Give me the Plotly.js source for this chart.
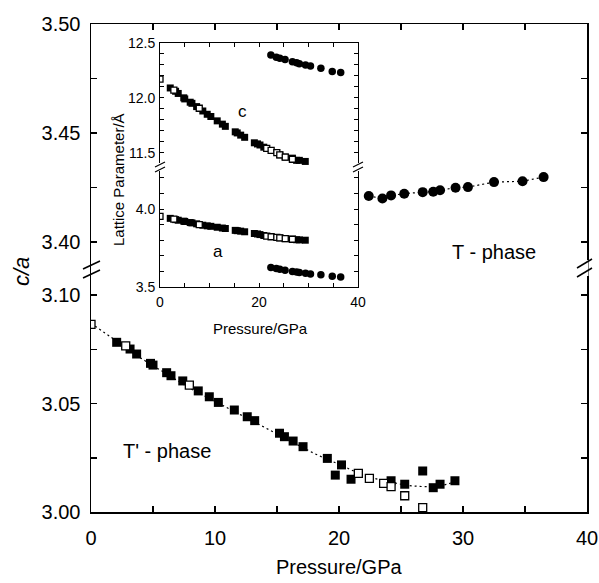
<!DOCTYPE html>
<html><head><meta charset="utf-8">
<script src="https://cdn.plot.ly/plotly-3.0.1.min.js"></script>
<style>html,body{margin:0;padding:0;background:#fff}</style>
</head><body><div id="chart" style="width:599px;height:583px"></div>
<script>
// ---- Main plot: T' phase c/a ----
const tpPressureFilled = [2.07, 3.15, 3.68, 4.8, 5.0, 6.1, 6.45, 7.4, 8.65, 9.54, 10.27, 11.56, 12.6, 13.2, 15.2, 15.6, 16.3, 17.1, 19.06, 19.7, 20.2, 20.97, 24.2, 25.3, 26.75, 27.6, 28.15, 29.35];
const tpRatioFilled = [3.0782, 3.0751, 3.0728, 3.0685, 3.0677, 3.0642, 3.0628, 3.0604, 3.0558, 3.0531, 3.0505, 3.0470, 3.0439, 3.0421, 3.0363, 3.0347, 3.0327, 3.0301, 3.0247, 3.0170, 3.0217, 3.0151, 3.0144, 3.0128, 3.0189, 3.0112, 3.0128, 3.0144];
const tpPressureOpen = [0, 2.8, 7.93, 21.56, 22.45, 23.6, 24.2, 25.3, 26.75];
const tpRatioOpen = [3.0865, 3.0766, 3.0585, 3.0178, 3.0155, 3.0132, 3.0117, 3.0075, 3.0020];
// dotted guide curve through T' phase
const tpFitPressure = [0, 2, 4, 6, 8, 10, 12, 14, 16, 18, 20, 22, 24, 26, 28, 29.4];
const tpFitRatio = [3.087, 3.079, 3.071, 3.064, 3.057, 3.051, 3.045, 3.039, 3.033, 3.027, 3.022, 3.017, 3.014, 3.012, 3.012, 3.014];
// ---- Main plot: T phase c/a ----
const tPressure = [22.4, 23.5, 24.2, 25.26, 26.75, 27.6, 28.15, 29.4, 30.4, 32.5, 34.8, 36.5];
const tRatio = [3.4211, 3.4200, 3.4214, 3.4222, 3.4229, 3.4231, 3.4238, 3.4249, 3.4252, 3.4275, 3.4279, 3.4298];
// ---- Inset: lattice parameters ----
const tpCFilled = [12.09, 12.06, 12.04, 12.00, 11.99, 11.96, 11.95, 11.92, 11.88, 11.85, 11.83, 11.79, 11.76, 11.74, 11.69, 11.68, 11.66, 11.64, 11.59, 11.58, 11.57, 11.55, 11.48, 11.46, 11.45, 11.43, 11.43, 11.42];
const tpCOpen = [12.17, 12.07, 11.905, 11.54, 11.52, 11.50, 11.48, 11.46, 11.44];
const tpAFilled = [3.94, 3.932, 3.928, 3.922, 3.92, 3.913, 3.911, 3.905, 3.896, 3.892, 3.889, 3.883, 3.878, 3.875, 3.863, 3.861, 3.858, 3.854, 3.843, 3.840, 3.836, 3.830, 3.815, 3.81, 3.806, 3.803, 3.802, 3.80];
const tpAOpen = [3.953, 3.935, 3.90, 3.826, 3.822, 3.818, 3.815, 3.81, 3.806];
const tC = [12.39, 12.37, 12.36, 12.35, 12.33, 12.32, 12.31, 12.30, 12.29, 12.27, 12.24, 12.23];
const tA = [3.625, 3.618, 3.613, 3.607, 3.600, 3.596, 3.593, 3.588, 3.584, 3.578, 3.569, 3.564];
// ---- ticks ----
const mainXTicks = [0, 5, 10, 15, 20, 25, 30, 35, 40];
const mainXLabels = ['0', '', '10', '', '20', '', '30', '', '40'];
const lowYTicks = [3.00, 3.025, 3.05, 3.075, 3.10];
const lowYLabels = ['3.00', '', '3.05', '', '3.10'];
const upYTicks = [3.40, 3.425, 3.45, 3.475, 3.50];
const upYLabels = ['3.40', '', '3.45', '', '3.50'];
const insXLabels = ['0', '', '', '', '20', '', '', '', '40'];
const insATicks = [3.5, 3.6, 3.7, 3.8, 3.9, 4.0, 4.1, 4.2];
const insALabels = ['3.5', '', '', '', '', '4.0', '', ''];
const insCTicks = [11.5, 11.6, 11.7, 11.8, 11.9, 12.0, 12.1, 12.2, 12.3, 12.4, 12.5];
const insCLabels = ['11.5', '', '', '', '', '12.0', '', '', '', '', '12.5'];

// ---- geometry helpers (pixel -> paper) ----
const W = 599, H = 583, PL = 91, PR = 587, PT = 24, PB = 512;
const px = x => (x - PL) / (PR - PL);
const py = y => (PB - y) / (PB - PT);
const split = py(270);
const FONT = 'Liberation Sans, Arial, Helvetica, sans-serif';

const filledSq = (x, y, xa, ya, s) => ({x, y, xaxis: xa, yaxis: ya, type: 'scatter', mode: 'markers', showlegend: false, hoverinfo: 'skip',
  marker: {symbol: 'square', size: s, color: 'black', line: {width: 0}}});
const openSq = (x, y, xa, ya, s) => ({x, y, xaxis: xa, yaxis: ya, type: 'scatter', mode: 'markers', showlegend: false, hoverinfo: 'skip',
  marker: {symbol: 'square', size: s, color: 'white', line: {width: 1.3, color: 'black'}}});
const circ = (x, y, xa, ya, s, line) => ({x, y, xaxis: xa, yaxis: ya, type: 'scatter', mode: line ? 'lines+markers' : 'markers', showlegend: false, hoverinfo: 'skip',
  line: {color: 'black', width: 1.2, dash: '2px,3px'}, marker: {symbol: 'circle', size: s, color: 'black'}});

const data = [
  {x: tpFitPressure, y: tpFitRatio, xaxis: 'x', yaxis: 'y', type: 'scatter', mode: 'lines', showlegend: false, hoverinfo: 'skip',
   line: {color: 'black', width: 1.2, dash: '2px,3px', shape: 'spline'}},
  filledSq(tpPressureFilled, tpRatioFilled, 'x', 'y', 9),
  openSq(tpPressureOpen, tpRatioOpen, 'x', 'y', 8),
  circ(tPressure, tRatio, 'x2', 'y2', 10, true),
  // inset a
  filledSq(tpPressureFilled, tpAFilled, 'x3', 'y3', 7),
  openSq(tpPressureOpen, tpAOpen, 'x3', 'y3', 6),
  circ(tPressure, tA, 'x3', 'y3', 7.5, false),
  // inset c
  filledSq(tpPressureFilled, tpCFilled, 'x4', 'y4', 7),
  openSq(tpPressureOpen, tpCOpen, 'x4', 'y4', 6),
  circ(tPressure, tC, 'x4', 'y4', 7.5, false)
];

const baseAx = {showgrid: false, zeroline: false, showline: true, linecolor: 'black', ticks: 'inside', tickcolor: 'black', fixedrange: true};
const mainX = Object.assign({}, baseAx, {domain: [0, 1], range: [0, 40], tickmode: 'array', tickvals: mainXTicks, linewidth: 1.5, tickwidth: 1.5, ticklen: 6});
const insX = Object.assign({}, baseAx, {domain: [px(160), px(358)], range: [0, 40], tickmode: 'array', tickvals: mainXTicks, linewidth: 1, tickwidth: 1, ticklen: 4});

const ann = (text, x, y, size, extra) => Object.assign({text, xref: 'paper', yref: 'paper', x: px(x), y: py(y), xanchor: 'center', yanchor: 'middle', showarrow: false, font: {size}}, extra || {});

const layout = {
  width: W, height: H, margin: {l: PL, r: W - PR, t: PT, b: H - PB},
  paper_bgcolor: 'white', plot_bgcolor: 'rgba(0,0,0,0)', showlegend: false,
  font: {family: FONT, color: 'black'},
  xaxis: Object.assign({}, mainX, {anchor: 'y', ticktext: mainXLabels, tickfont: {size: 20}, ticklabelstandoff: 7}),
  xaxis2: Object.assign({}, mainX, {anchor: 'y2', side: 'top', showticklabels: false, ticktext: mainXLabels}),
  yaxis: Object.assign({}, baseAx, {domain: [0, split], anchor: 'x', range: [3.00, 3.10 + 25 / 2170], tickmode: 'array', tickvals: lowYTicks, ticktext: lowYLabels,
    mirror: 'ticks', linewidth: 1.5, tickwidth: 1.5, ticklen: 6, tickfont: {size: 20}, ticklabelstandoff: 5}),
  yaxis2: Object.assign({}, baseAx, {domain: [split, 1], anchor: 'x2', range: [3.40 - 28 / 2187, 3.50], tickmode: 'array', tickvals: upYTicks, ticktext: upYLabels,
    mirror: 'ticks', linewidth: 1.5, tickwidth: 1.5, ticklen: 6, tickfont: {size: 20}, ticklabelstandoff: 5}),
  xaxis3: Object.assign({}, insX, {anchor: 'y3', ticktext: insXLabels, tickfont: {size: 14}, ticklabelstandoff: 2}),
  xaxis4: Object.assign({}, insX, {anchor: 'y4', side: 'top', showticklabels: false, ticktext: insXLabels}),
  yaxis3: Object.assign({}, baseAx, {domain: [py(287), py(166)], anchor: 'x3', range: [3.5, 4.0 + 43 / 156], tickmode: 'array', tickvals: insATicks, ticktext: insALabels,
    mirror: 'ticks', linewidth: 1, tickwidth: 1, ticklen: 4, tickfont: {size: 14}, ticklabelstandoff: 1}),
  yaxis4: Object.assign({}, baseAx, {domain: [py(166), py(43)], anchor: 'x4', range: [11.5 - 13.3 / 109.4, 12.5], tickmode: 'array', tickvals: insCTicks, ticktext: insCLabels,
    mirror: 'ticks', linewidth: 1, tickwidth: 1, ticklen: 4, tickfont: {size: 14}, ticklabelstandoff: 1}),
  annotations: [
    ann('Pressure/GPa', 339, 567, 20),
    ann('<i>c/a</i>', 21, 272, 22, {textangle: -90}),
    ann('T - phase', 494, 252, 20),
    ann("T' - phase", 167, 451, 20),
    ann('c', 242, 112, 17),
    ann('a', 218, 251, 17),
    ann('Lattice Parameter/Å', 118, 180, 15, {textangle: -90}),
    ann('Pressure/GPa', 260, 328, 15)
  ],
  shapes: []
};
const seg = (x0, y0, x1, y1, color, w) => ({type: 'line', xref: 'paper', yref: 'paper', x0: px(x0), y0: py(y0), x1: px(x1), y1: py(y1), line: {color, width: w}, layer: 'above'});
layout.shapes.push(
  seg(587, 260, 587, 276, 'white', 3),
  seg(83, 269, 100, 261, 'black', 1.5), seg(83, 278, 100, 270, 'black', 1.5),
  seg(577, 268, 592, 259, 'black', 1.5), seg(577, 277, 592, 268, 'black', 1.5),
  seg(160, 163, 160, 171, 'white', 2.5), seg(358, 163, 358, 171, 'white', 2.5),
  seg(155, 167, 165, 162, 'black', 1.2), seg(155, 172, 165, 167, 'black', 1.2),
  seg(353, 167, 363, 162, 'black', 1.2), seg(353, 172, 363, 167, 'black', 1.2)
);
Plotly.newPlot('chart', data, layout, {staticPlot: true, displayModeBar: false});
</script></body></html>
